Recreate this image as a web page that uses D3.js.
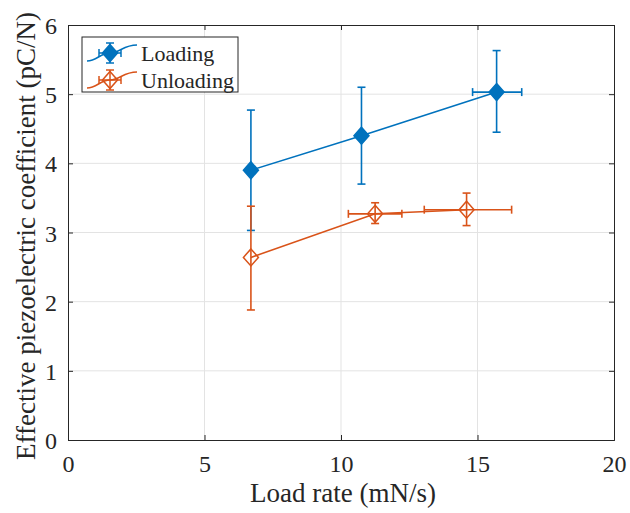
<!DOCTYPE html>
<html><head><meta charset="utf-8">
<script src="https://cdn.jsdelivr.net/npm/d3@7"></script>
<style>body{margin:0;background:#fff}svg{display:block}text{font-family:"Liberation Serif",Tinos,"Times New Roman","DejaVu Serif",serif;fill:#262626}</style>
</head><body><svg id="c" width="630" height="513"></svg>
<script>
// Data
const seriesNames = ["Loading", "Unloading"];
const loadX    = [6.7, 10.75, 15.7];
const loadY    = [3.9, 4.4, 5.03];
const loadYlo  = [0.87, 0.70, 0.58];
const loadYhi  = [0.87, 0.70, 0.60];
const loadXlo  = [0, 0, 0.88];
const loadXhi  = [0, 0, 0.92];
const unX      = [6.7, 11.25, 14.6];
const unY      = [2.64, 3.27, 3.33];
const unYlo    = [0.76, 0.14, 0.23];
const unYhi    = [0.74, 0.16, 0.24];
const unXlo    = [0, 0.98, 1.55];
const unXhi    = [0, 0.98, 1.65];
const xTicks = [0, 5, 10, 15, 20];
const yTicks = [0, 1, 2, 3, 4, 5, 6];
const colors = ["#0072BD", "#D95319"];

const svg = d3.select("#c");
const L = 68, R = 614, T = 25, B = 440;
const x = d3.scaleLinear().domain([0, 20]).range([L, R]);
const y = d3.scaleLinear().domain([0, 6]).range([B, T]);
const axc = "#262626";
const FF = '"Liberation Serif", Tinos, "Times New Roman", "DejaVu Serif", serif';

// grid
svg.append("g").selectAll("line").data(xTicks.slice(1, -1)).join("line")
  .attr("x1", d => x(d)).attr("x2", d => x(d)).attr("y1", T).attr("y2", B)
  .attr("stroke", "#e3e3e3").attr("stroke-width", 1);
svg.append("g").selectAll("line").data(yTicks.slice(1, -1)).join("line")
  .attr("y1", d => y(d)).attr("y2", d => y(d)).attr("x1", L).attr("x2", R)
  .attr("stroke", "#e3e3e3").attr("stroke-width", 1);

// axes
const fs = 24;
const fmt = d3.format("d");
const xAx = svg.append("g").attr("transform", `translate(0,${B})`)
  .call(d3.axisBottom(x).tickValues(xTicks).tickFormat(fmt).tickSize(-5).tickPadding(15));
const xTop = svg.append("g").attr("transform", `translate(0,${T})`)
  .call(d3.axisTop(x).tickValues(xTicks).tickSize(-5).tickFormat(""));
const yAx = svg.append("g").attr("transform", `translate(${L},0)`)
  .call(d3.axisLeft(y).tickValues(yTicks).tickFormat(fmt).tickSize(-5).tickPadding(11));
const yR = svg.append("g").attr("transform", `translate(${R},0)`)
  .call(d3.axisRight(y).tickValues(yTicks).tickSize(-5).tickFormat(""));
[xAx, xTop, yAx, yR].forEach(g => {
  g.attr("font-family", FF);
  g.select(".domain").attr("stroke", axc).attr("stroke-width", 1);
  g.selectAll(".tick line").attr("stroke", axc);
  g.selectAll(".tick text").attr("font-size", fs).attr("fill", axc).style("font-family", FF);
});
xAx.selectAll(".tick text").attr("dy", "0.71em");
yAx.selectAll(".tick text").attr("dy", "0.36em");

// labels
svg.append("text").attr("x", 343).attr("y", 502).attr("text-anchor", "middle")
  .attr("font-size", 27).style("font-family", FF).text("Load rate (mN/s)");
svg.append("text").attr("transform", `translate(35,236) rotate(-90)`)
  .attr("text-anchor", "middle").attr("font-size", 27).style("font-family", FF)
  .text("Effective piezoelectric coefficient (pC/N)");

function diamond(g, cx, cy, col, filled) {
  const h = 8.5, w = 7.5;
  g.append("path").attr("d", `M${cx},${cy - h}L${cx + w},${cy}L${cx},${cy + h}L${cx - w},${cy}Z`)
    .attr("fill", filled ? col : "none").attr("stroke", col).attr("stroke-width", 1.5);
}

function drawSeries(X, Y, ylo, yhi, xlo, xhi, col, filled) {
  const g = svg.append("g");
  const line = d3.line().x(d => x(d[0])).y(d => y(d[1]));
  g.append("path").attr("d", line(X.map((v, i) => [v, Y[i]])))
    .attr("fill", "none").attr("stroke", col).attr("stroke-width", 1.6);
  const cap = 4;
  X.forEach((xv, i) => {
    const cx = x(xv), cy = y(Y[i]);
    const y1 = y(Y[i] + yhi[i]), y2 = y(Y[i] - ylo[i]);
    g.append("line").attr("x1", cx).attr("x2", cx).attr("y1", y1).attr("y2", y2).attr("stroke", col).attr("stroke-width", 1.6);
    [y1, y2].forEach(yy => g.append("line").attr("x1", cx - cap).attr("x2", cx + cap).attr("y1", yy).attr("y2", yy).attr("stroke", col).attr("stroke-width", 1.6));
    if (xlo[i] > 0 || xhi[i] > 0) {
      const x1 = x(xv - xlo[i]), x2 = x(xv + xhi[i]);
      g.append("line").attr("x1", x1).attr("x2", x2).attr("y1", cy).attr("y2", cy).attr("stroke", col).attr("stroke-width", 1.6);
      [x1, x2].forEach(xx => g.append("line").attr("x1", xx).attr("x2", xx).attr("y1", cy - cap).attr("y2", cy + cap).attr("stroke", col).attr("stroke-width", 1.6));
    }
    diamond(g, cx, cy, col, filled);
  });
}
drawSeries(loadX, loadY, loadYlo, loadYhi, loadXlo, loadXhi, colors[0], true);
drawSeries(unX, unY, unYlo, unYhi, unXlo, unXhi, colors[1], false);

// legend
const lg = svg.append("g");
lg.append("rect").attr("x", 82).attr("y", 37).attr("width", 156).attr("height", 55)
  .attr("fill", "#fff").attr("stroke", axc).attr("stroke-width", 1);
seriesNames.forEach((n, i) => {
  const cy = 53 + i * 27, col = colors[i];
  lg.append("path").attr("d", `M87,${cy + 8}C97,${cy + 8} 100,${cy} 110,${cy}C120,${cy} 123,${cy - 8} 137,${cy - 8}`)
    .attr("fill", "none").attr("stroke", col).attr("stroke-width", 1.5);
  lg.append("line").attr("x1", 110).attr("x2", 110).attr("y1", cy - 10).attr("y2", cy + 10).attr("stroke", col).attr("stroke-width", 1.5);
  lg.append("line").attr("x1", 99).attr("x2", 121).attr("y1", cy).attr("y2", cy).attr("stroke", col).attr("stroke-width", 1.5);
  [[106, cy - 10, 114, cy - 10], [106, cy + 10, 114, cy + 10], [99, cy - 4, 99, cy + 4], [121, cy - 4, 121, cy + 4]].forEach(s =>
    lg.append("line").attr("x1", s[0]).attr("y1", s[1]).attr("x2", s[2]).attr("y2", s[3]).attr("stroke", col).attr("stroke-width", 1.5));
  diamond(lg, 110, cy, col, i === 0);
  lg.append("text").attr("x", 141).attr("y", cy).attr("dy", "0.35em").attr("font-size", 22).style("font-family", FF).text(n);
});
</script></body></html>
